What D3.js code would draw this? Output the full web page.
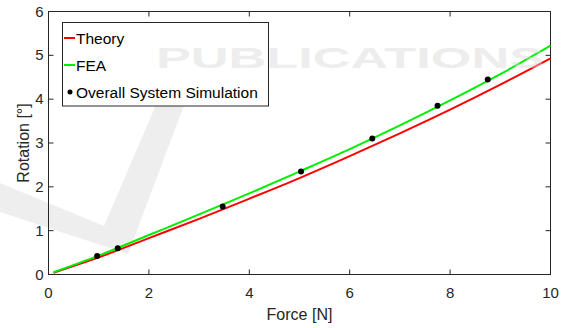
<!DOCTYPE html>
<html>
<head>
<meta charset="utf-8">
<script src="https://cdn.jsdelivr.net/npm/d3@7"></script>
<style>
  body { margin: 0; background: #fff; }
  svg text { font-family: "Liberation Sans", Arial, sans-serif; }
</style>
</head>
<body>
<svg id="chart" width="567" height="328"></svg>
<script>
// Curve samples
const forceGrid = [0.1, 1, 2, 3, 4, 5, 6, 7, 8, 9, 10];
const theoryValues = [0.04, 0.39, 0.83, 1.27, 1.73, 2.2, 2.7, 3.22, 3.76, 4.33, 4.93];
const feaValues = [0.05, 0.43, 0.9, 1.37, 1.85, 2.35, 2.86, 3.4, 3.97, 4.57, 5.22];

// Overall system simulation points
const simForce = [0.97, 1.38, 3.47, 5.03, 6.45, 7.75, 8.75];
const simRotation = [0.42, 0.6, 1.55, 2.35, 3.1, 3.85, 4.45];

const xTicks = [0, 2, 4, 6, 8, 10];
const yTicks = [0, 1, 2, 3, 4, 5, 6];

const svg = d3.select('#chart');
const margin = { left: 48.5, right: 16.5, top: 11.5, bottom: 53.5 };
const width = 567, height = 328;

const x = d3.scaleLinear().domain([0, 10]).range([margin.left, width - margin.right]);
const y = d3.scaleLinear().domain([0, 6]).range([height - margin.bottom, margin.top]);

// faint watermark shape behind everything
svg.append('path')
    .attr('d', 'M0,183 L104,226 L158,100 L186,100 L128,254 L0,212 Z')
    .attr('fill', '#eeeeee');

const tickLen = 5;
const axisColor = '#262626';

// ticks on all four sides (inward)
const tg = svg.append('g').attr('stroke', axisColor).attr('stroke-width', 1);
xTicks.forEach(t => {
    tg.append('line').attr('x1', x(t)).attr('x2', x(t)).attr('y1', y(0)).attr('y2', y(0) - tickLen);
    tg.append('line').attr('x1', x(t)).attr('x2', x(t)).attr('y1', y(6)).attr('y2', y(6) + tickLen);
});
yTicks.forEach(t => {
    tg.append('line').attr('x1', x(0)).attr('x2', x(0) + tickLen).attr('y1', y(t)).attr('y2', y(t));
    tg.append('line').attr('x1', x(10)).attr('x2', x(10) - tickLen).attr('y1', y(t)).attr('y2', y(t));
});

// box
svg.append('rect')
    .attr('x', x(0)).attr('y', y(6))
    .attr('width', x(10) - x(0)).attr('height', y(0) - y(6))
    .attr('fill', 'none').attr('stroke', axisColor).attr('stroke-width', 1);

// tick labels
svg.append('g').selectAll('text').data(xTicks).enter().append('text')
    .attr('x', d => x(d)).attr('y', y(0) + 23)
    .attr('text-anchor', 'middle').attr('font-size', '15px').attr('fill', axisColor)
    .text(d => d);
svg.append('g').selectAll('text').data(yTicks).enter().append('text')
    .attr('x', x(0) - 5).attr('y', d => y(d) + 5)
    .attr('text-anchor', 'end').attr('font-size', '15px').attr('fill', axisColor)
    .text(d => d);

// axis labels
svg.append('text')
    .attr('x', (x(0) + x(10)) / 2).attr('y', 320)
    .attr('text-anchor', 'middle').attr('font-size', '16px').attr('fill', axisColor)
    .text('Force [N]');
svg.append('text')
    .attr('transform', `translate(29,${(y(0) + y(6)) / 2}) rotate(-90)`)
    .attr('text-anchor', 'middle').attr('font-size', '16px').attr('fill', axisColor)
    .text('Rotation [°]');

// lines
const line = d3.line().curve(d3.curveMonotoneX);
svg.append('path')
    .datum(forceGrid.map((f, i) => [x(f), y(theoryValues[i])]))
    .attr('d', line).attr('fill', 'none').attr('stroke', '#ff0000').attr('stroke-width', 2);
svg.append('path')
    .datum(forceGrid.map((f, i) => [x(f), y(feaValues[i])]))
    .attr('d', line).attr('fill', 'none').attr('stroke', '#00ee00').attr('stroke-width', 2);

// simulation points
svg.append('g').selectAll('circle').data(simForce).enter().append('circle')
    .attr('cx', d => x(d)).attr('cy', (d, i) => y(simRotation[i]))
    .attr('r', 3).attr('fill', '#000');

// legend
const lg = svg.append('g');
lg.append('rect')
    .attr('x', 62.5).attr('y', 22.5).attr('width', 206).attr('height', 83.5)
    .attr('fill', '#fff').attr('stroke', axisColor).attr('stroke-width', 1);
const legendItems = [
    { label: 'Theory', color: '#ff0000', type: 'line' },
    { label: 'FEA', color: '#00ee00', type: 'line' },
    { label: 'Overall System Simulation', color: '#000', type: 'dot' }
];
legendItems.forEach((d, i) => {
    const cy = 38 + i * 27;
    if (d.type === 'line') {
        lg.append('line').attr('x1', 64).attr('x2', 75).attr('y1', cy).attr('y2', cy)
            .attr('stroke', d.color).attr('stroke-width', 2);
    } else {
        lg.append('circle').attr('cx', 70).attr('cy', cy).attr('r', 2.5).attr('fill', d.color);
    }
    lg.append('text').attr('x', 76).attr('y', cy + 5.5)
        .attr('font-size', '15.5px').attr('fill', '#000').text(d.label);
});

// watermark text over the chart, very faint
svg.append('text').attr('x', 156).attr('y', 68)
    .attr('fill', '#d8d8d8').attr('opacity', 0.45)
    .attr('font-size', '30px').attr('font-weight', 'bold')
    .attr('textLength', 388).attr('lengthAdjust', 'spacingAndGlyphs')
    .text('PUBLICATIONS');
</script>
</body>
</html>
